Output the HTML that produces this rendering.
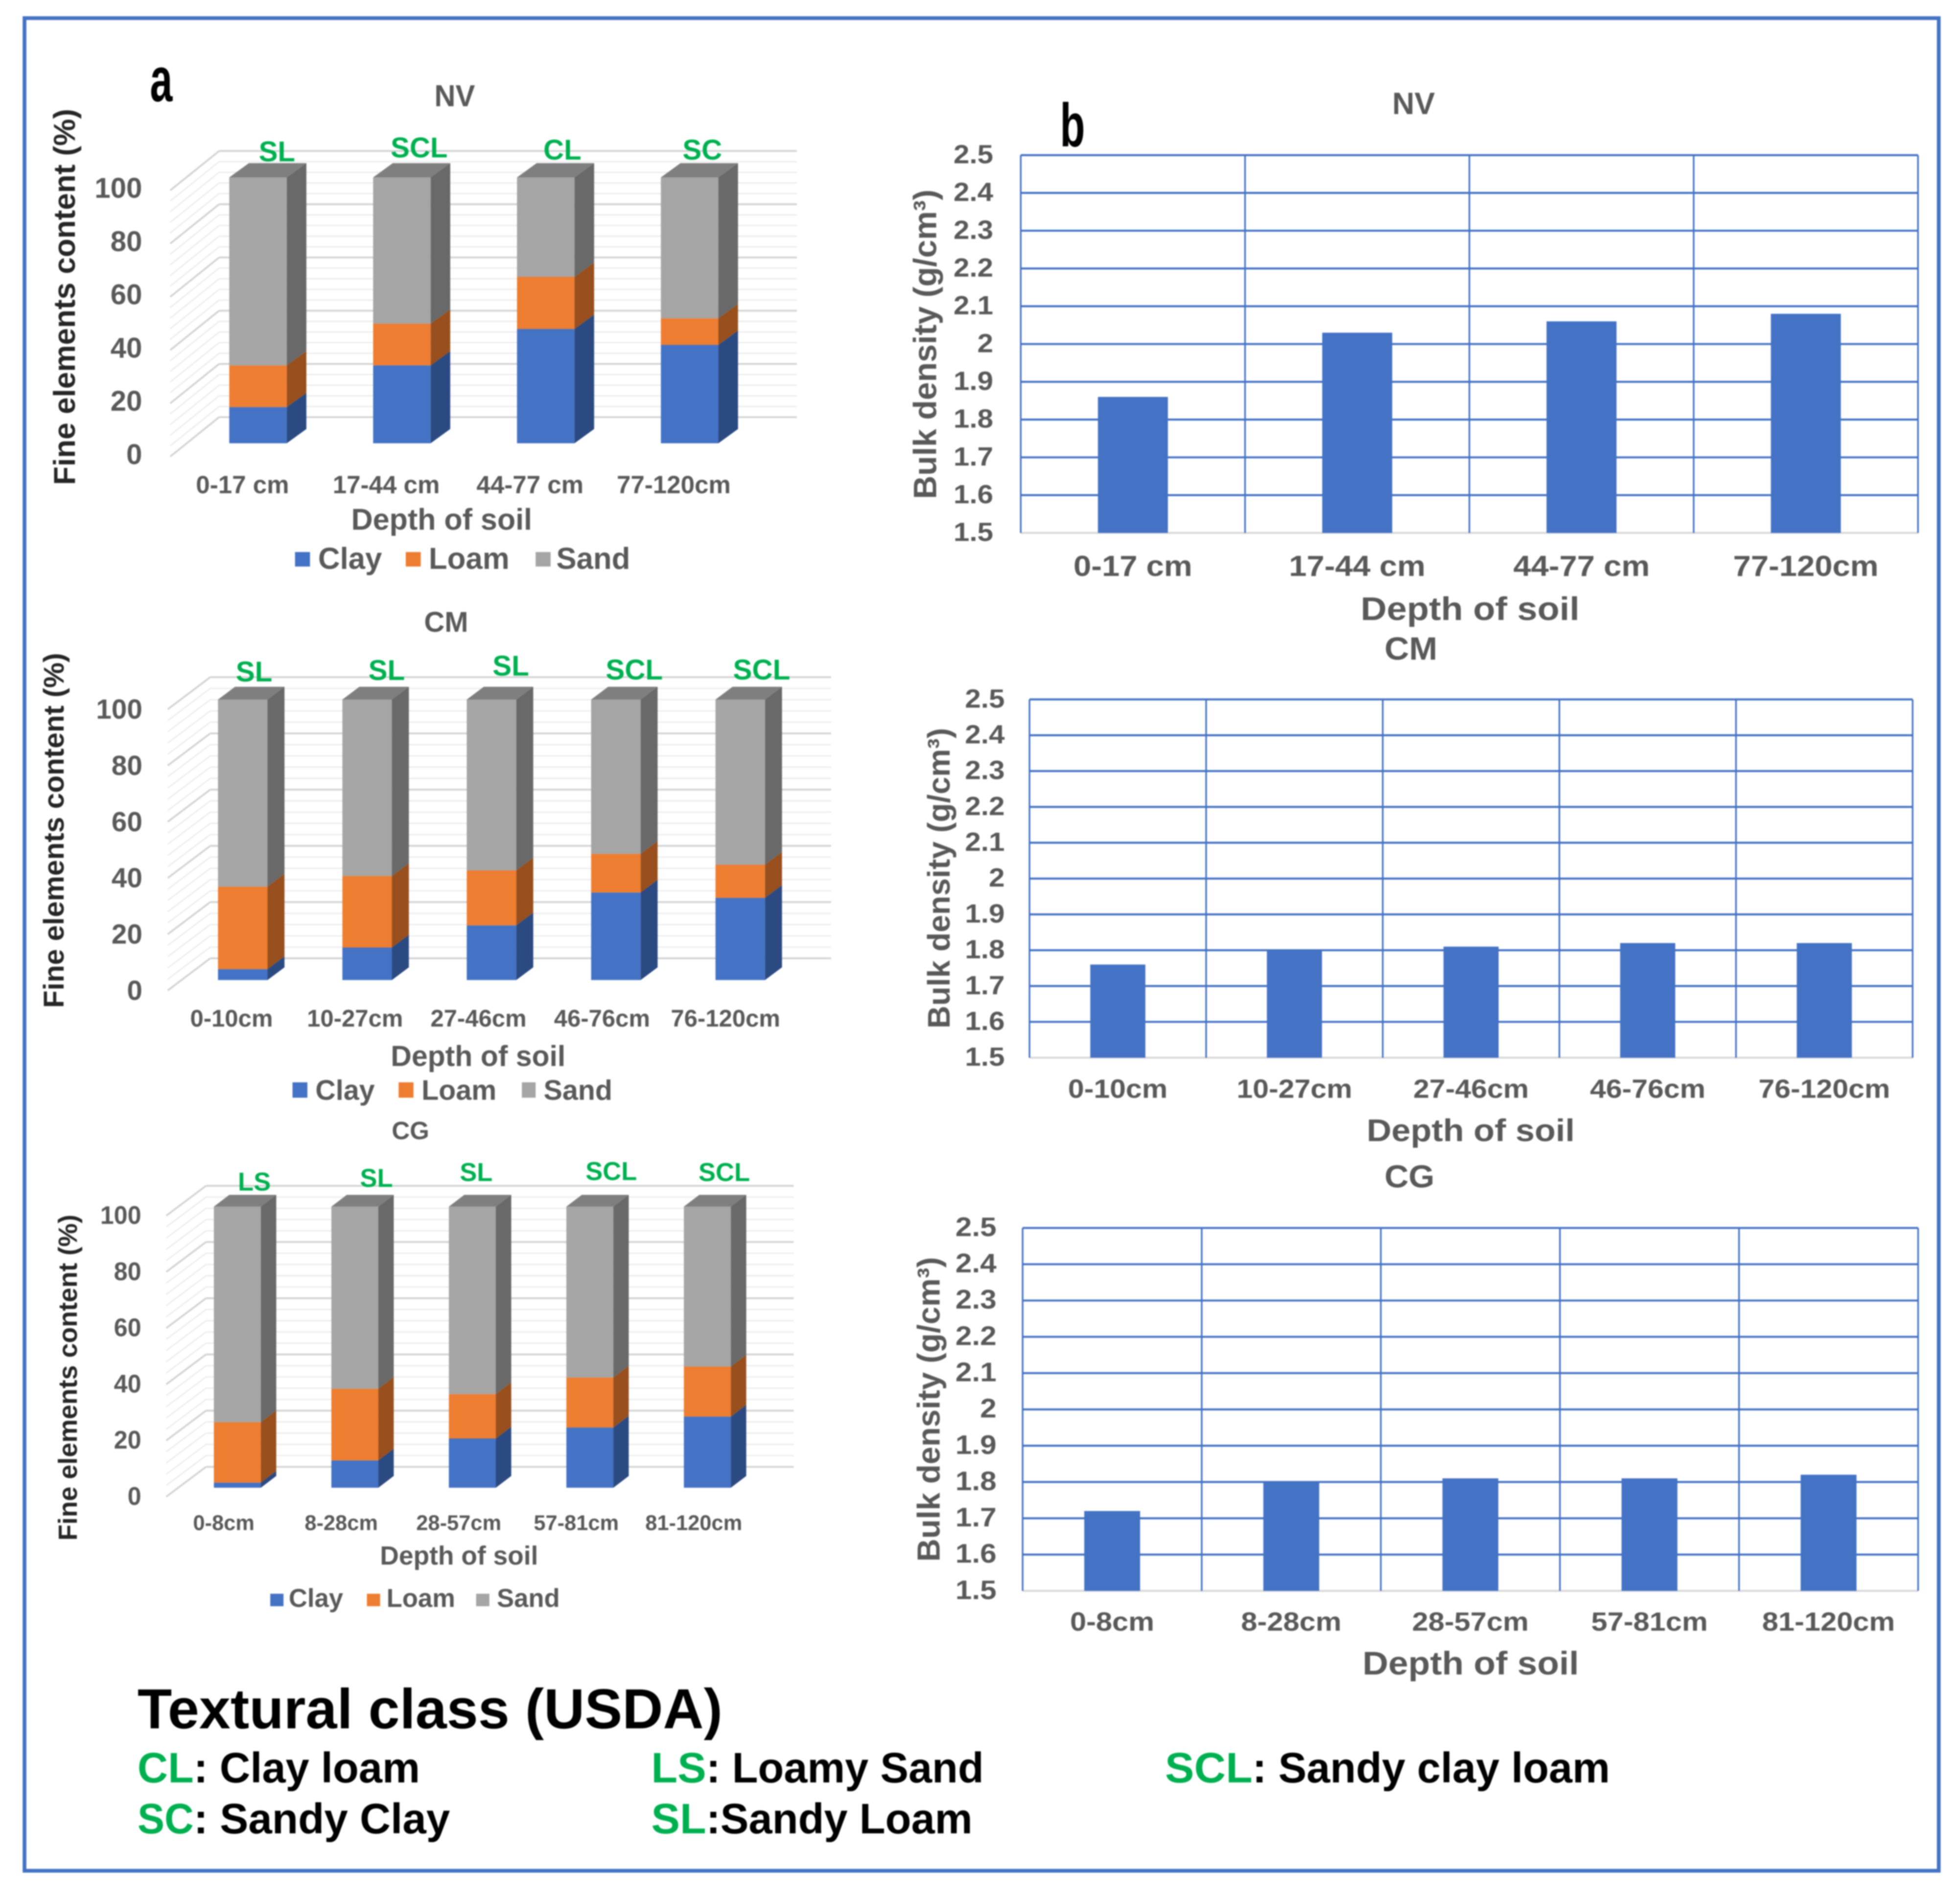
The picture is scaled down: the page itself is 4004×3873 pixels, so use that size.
<!DOCTYPE html>
<html lang="en">
<head>
<meta charset="utf-8">
<title>Soil fine elements and bulk density by depth</title>
<style>
html,body{margin:0;padding:0;background:#fff}
svg{display:block;filter:blur(1.2px)}
text{font-family:"Liberation Sans",Arial,sans-serif}
.g{fill:#595959;font-weight:700}
.c{fill:#00B050;font-weight:700}
.k{fill:#000;font-weight:700}
</style>
</head>
<body>
<svg id="figure" xmlns="http://www.w3.org/2000/svg" width="4004" height="3873" viewBox="0 0 1568 1516.7">
<rect x="0" y="0" width="1568" height="1516.7" fill="#fff"/>
<rect x="19.6" y="14.5" width="1531.4" height="1482" fill="none" stroke="#4472C4" stroke-width="3"/>

<text x="120" y="81" font-size="50" font-weight="700" fill="#000" textLength="18" lengthAdjust="spacingAndGlyphs">a</text>
<text x="848" y="117" font-size="49" font-weight="700" fill="#000" textLength="20" lengthAdjust="spacingAndGlyphs">b</text>

<!-- a: NV -->
<g id="stackNV"></g>
<text class="g" transform="translate(347.5 85) scale(.96 1)" font-size="24.4">NV</text>
<text class="g" transform="translate(60 388) rotate(-90)" font-size="24.3" textLength="301" lengthAdjust="spacingAndGlyphs" style="fill:#262626">Fine elements content (%)</text>
<text class="g" transform="translate(281 423.7)" font-size="23.9">Depth of soil</text>
<text class="c" x="207" y="129" font-size="22.8">SL</text>
<text class="c" x="312.5" y="126" font-size="22.8">SCL</text>
<text class="c" x="434.7" y="127.6" font-size="22.8">CL</text>
<text class="c" x="546" y="127.6" font-size="22.8">SC</text>
<g>
<rect x="236" y="441.6" width="12" height="11.6" fill="#4472C4"/>
<text class="g" x="254.5" y="455" font-size="24.2">Clay</text>
<rect x="324.6" y="441.6" width="12" height="11.6" fill="#ED7D31"/>
<text class="g" x="343" y="455" font-size="24.2">Loam</text>
<rect x="428.5" y="441.6" width="12" height="11.6" fill="#A5A5A5"/>
<text class="g" x="445" y="455" font-size="24.2">Sand</text>
</g>

<!-- a: CM -->
<g id="stackCM"></g>
<text class="g" transform="translate(339.3 505.3)" font-size="22.7">CM</text>
<text class="g" transform="translate(51 806.3) rotate(-90)" font-size="22.9" textLength="284" lengthAdjust="spacingAndGlyphs" style="fill:#262626">Fine elements content (%)</text>
<text class="g" transform="translate(312.6 852.7)" font-size="23.1">Depth of soil</text>
<text class="c" x="188.6" y="545.2" font-size="22.9">SL</text>
<text class="c" x="294.7" y="544" font-size="22.9">SL</text>
<text class="c" x="394" y="540.4" font-size="22.9">SL</text>
<text class="c" x="484.5" y="543.6" font-size="22.9">SCL</text>
<text class="c" x="586.4" y="543.6" font-size="22.9">SCL</text>
<g>
<rect x="234" y="865.8" width="11.9" height="12.3" fill="#4472C4"/>
<text class="g" x="252.3" y="879.7" font-size="22.5">Clay</text>
<rect x="318.9" y="865.8" width="11.9" height="12.3" fill="#ED7D31"/>
<text class="g" x="337.2" y="879.7" font-size="22.5">Loam</text>
<rect x="417.5" y="865.8" width="11" height="12.3" fill="#A5A5A5"/>
<text class="g" x="434.9" y="879.7" font-size="22.5">Sand</text>
</g>

<!-- a: CG -->
<g id="stackCG"></g>
<text class="g" transform="translate(313.4 911.3)" font-size="20">CG</text>
<text class="g" transform="translate(61.5 1232.4) rotate(-90)" font-size="21" textLength="260.8" lengthAdjust="spacingAndGlyphs" style="fill:#262626">Fine elements content (%)</text>
<text class="g" transform="translate(304 1251.6)" font-size="20.9">Depth of soil</text>
<text class="c" x="190.3" y="952.4" font-size="20.6">LS</text>
<text class="c" x="288" y="949.5" font-size="20.6">SL</text>
<text class="c" x="367.8" y="944.8" font-size="20.6">SL</text>
<text class="c" x="468.4" y="944" font-size="20.6">SCL</text>
<text class="c" x="558.8" y="944.8" font-size="20.6">SCL</text>
<g>
<rect x="216.2" y="1274.9" width="10.6" height="10" fill="#4472C4"/>
<text class="g" x="231" y="1285.4" font-size="20.6">Clay</text>
<rect x="293.5" y="1274.9" width="10.6" height="10" fill="#ED7D31"/>
<text class="g" x="309.2" y="1285.4" font-size="20.6">Loam</text>
<rect x="380.9" y="1274.9" width="10.6" height="10" fill="#A5A5A5"/>
<text class="g" x="397.5" y="1285.4" font-size="20.6">Sand</text>
</g>

<!-- b: bulk density -->
<g id="densityNV"></g>
<text class="g" transform="translate(1113.8 91.3)" font-size="24.6">NV</text>
<text class="g" transform="translate(749 399.2) rotate(-90)" font-size="25.8" textLength="247.6" lengthAdjust="spacingAndGlyphs">Bulk density (g/cm³)</text>
<text class="g" transform="translate(1088.5 496) scale(1.1 1)" font-size="26.3">Depth of soil</text>

<g id="densityCM"></g>
<text class="g" transform="translate(1107.6 527.7) scale(1.05 1)" font-size="25.9">CM</text>
<text class="g" transform="translate(759.8 822.7) rotate(-90)" font-size="25" textLength="240.4" lengthAdjust="spacingAndGlyphs">Bulk density (g/cm³)</text>
<text class="g" transform="translate(1093.3 912.8) scale(1.1 1)" font-size="25">Depth of soil</text>

<g id="densityCG"></g>
<text class="g" transform="translate(1107.6 949.9) scale(1.05 1)" font-size="25.4">CG</text>
<text class="g" transform="translate(751.6 1249.3) rotate(-90)" font-size="25.4" textLength="243.7" lengthAdjust="spacingAndGlyphs">Bulk density (g/cm³)</text>
<text class="g" transform="translate(1090 1339.4) scale(1.1 1)" font-size="26">Depth of soil</text>

<!-- textural class key -->
<g>
<text class="k" x="110" y="1382.5" font-size="45" textLength="468" lengthAdjust="spacingAndGlyphs">Textural class (USDA)</text>
<text class="c" x="110" y="1425.8" font-size="34" textLength="45" lengthAdjust="spacingAndGlyphs">CL</text>
<text class="k" x="155" y="1425.8" font-size="34" textLength="181" lengthAdjust="spacingAndGlyphs">:&#160;Clay loam</text>
<text class="c" x="521" y="1425.8" font-size="34" textLength="44" lengthAdjust="spacingAndGlyphs">LS</text>
<text class="k" x="565" y="1425.8" font-size="34" textLength="222" lengthAdjust="spacingAndGlyphs">:&#160;Loamy Sand</text>
<text class="c" x="932" y="1425.8" font-size="34" textLength="70" lengthAdjust="spacingAndGlyphs">SCL</text>
<text class="k" x="1002" y="1425.8" font-size="34" textLength="286" lengthAdjust="spacingAndGlyphs">:&#160;Sandy clay loam</text>
<text class="c" x="110" y="1466.5" font-size="34" textLength="45" lengthAdjust="spacingAndGlyphs">SC</text>
<text class="k" x="155" y="1466.5" font-size="34" textLength="205" lengthAdjust="spacingAndGlyphs">:&#160;Sandy Clay</text>
<text class="c" x="521" y="1466.5" font-size="34" textLength="44" lengthAdjust="spacingAndGlyphs">SL</text>
<text class="k" x="565" y="1466.5" font-size="34" textLength="213" lengthAdjust="spacingAndGlyphs">:Sandy Loam</text>
</g>
</svg>

<script>
// ---- data ----
const percentTicks = ['0','20','40','60','80','100'];
const densityTicks = ['1.5','1.6','1.7','1.8','1.9','2','2.1','2.2','2.3','2.4','2.5'];

const nvDepths = ['0-17 cm','17-44 cm','44-77 cm','77-120cm'];
const nvClay = [13.6,29.3,43,37];
const nvLoam = [15.7,15.7,19.6,10];
const nvSand = [70.7,55,37.4,53];
const nvDensity = [1.86,2.03,2.06,2.08];

const cmDepths = ['0-10cm','10-27cm','27-46cm','46-76cm','76-120cm'];
const cmClay = [3.9,11.6,19.5,31.2,29.3];
const cmLoam = [29.4,25.5,19.6,13.8,11.8];
const cmSand = [66.7,62.9,60.9,55,58.9];
const cmDensity = [1.76,1.80,1.81,1.82,1.82];

const cgDepths = ['0-8cm','8-28cm','28-57cm','57-81cm','81-120cm'];
const cgClay = [1.8,9.7,17.5,21.4,25.3];
const cgLoam = [21.5,25.5,15.8,17.8,17.8];
const cgSand = [76.7,64.8,66.7,60.8,56.9];
const cgDensity = [1.72,1.80,1.81,1.81,1.82];

// ---- helpers ----
const NS = 'http://www.w3.org/2000/svg';
function make(tag, props, parent){
  const e = document.createElementNS(NS, tag);
  for (const k in props) e.setAttribute(k, props[k]);
  parent.appendChild(e);
  return e;
}
function poly(points, fill, parent){
  return make('polygon', {points: points.map(p => p.join(',')).join(' '), fill: fill}, parent);
}
function textAt(str, x, y, size, sx, anchor, parent){
  const e = make('text', {transform:'translate('+x+' '+y+') scale('+sx+' 1)', 'font-size':size, 'text-anchor':anchor, class:'g'}, parent);
  e.textContent = str;
  return e;
}

const CLAY = {front:'#4472C4', side:'#2B4A82', name:'clay'};
const LOAM = {front:'#ED7D31', side:'#984F1D', name:'loam'};
const SAND = {front:'#A5A5A5', side:'#696969', name:'sand'};

// ---- 3-D stacked percentage chart ----
function drawStacked(id, geo, cats, clay, loam, sand){
  const root = document.getElementById(id);
  const yFront = v => geo.barBottom - v / 100 * geo.barH;
  const wallF = v => geo.wallFrontY - v / 100 * geo.wallH;
  const wallB = v => geo.wallBackY - v / 100 * geo.wallH;
  const xBar = i => geo.barX + geo.pitch * i;

  for (let v = 0; v <= 100; v += 4){
    const major = v % 20 === 0;
    const stroke = major ? '#D4D4D4' : '#EDEDED';
    const width = major ? 1.5 : 1.1;
    const back = make('line', {x1:geo.wallBackX, y1:wallB(v), x2:geo.wallRight, y2:wallB(v), stroke:stroke, 'stroke-width':width}, root);
    
    
    const diag = make('line', {x1:geo.wallFrontX, y1:wallF(v), x2:geo.wallBackX, y2:wallB(v), stroke:stroke, 'stroke-width':width}, root);
    
    
  }

  percentTicks.forEach(function(t){
    const label = textAt(t, geo.tickRight, wallF(+t) + geo.tickDy, geo.tickSize, geo.tickSx, 'end', root);
    
    
  });

  cats.forEach(function(cat, i){
    const bar = make('g', {}, root);
    
    
    const x0 = xBar(i), x1 = x0 + geo.barW;
    let base = 0;
    [[CLAY, clay[i]], [LOAM, loam[i]], [SAND, sand[i]]].forEach(function(seg){
      const top = base + seg[1];
      const yb = yFront(base), yt = yFront(top);
      const side = poly([[x1,yb],[x1+geo.dx,yb-geo.dy],[x1+geo.dx,yt-geo.dy],[x1,yt]], seg[0].side, bar);
      
      
      const front = make('rect', {x:x0, y:yt, width:geo.barW, height:yb-yt, fill:seg[0].front}, bar);
      
      
      base = top;
    });
    const yTop = yFront(base);
    const cap = poly([[x0,yTop],[x0+geo.dx,yTop-geo.dy],[x1+geo.dx,yTop-geo.dy],[x1,yTop]], '#7F7F7F', bar);
    
    

    const label = textAt(cat, geo.labelX + geo.labelPitch * i, geo.labelY, geo.labelSize, geo.labelSx, 'middle', root);
    
    
  });
}

// ---- flat density bar chart ----
function drawDensity(id, geo, cats, values){
  const root = document.getElementById(id);
  const w = geo.right - geo.left;
  const band = w / cats.length;
  const y = v => geo.bottom - (v - 1.5) / 1 * (geo.bottom - geo.top);

  densityTicks.forEach(function(t){
    const v = +t;
    const line = make('line', {x1:geo.left, y1:y(v), x2:geo.right, y2:y(v), stroke: v === 1.5 ? '#D9D9D9' : '#4472C4', 'stroke-width':1.6}, root);
    
    
    const label = textAt(t, geo.tickRight, y(v) + 6.5, geo.tickSize, geo.tickSx, 'end', root);
    
    
  });
  for (let i = 0; i <= cats.length; i++){
    const x = geo.left + band * i;
    const line = make('line', {x1:x, y1:geo.top, x2:x, y2:geo.bottom, stroke:'#4472C4', 'stroke-width':1.3}, root);
    
    
  }
  cats.forEach(function(cat, i){
    const cx = geo.left + band * (i + 0.5);
    const bw = band * 0.312;
    const bar = make('rect', {x:cx - bw / 2, y:y(values[i]), width:bw, height:y(1.5) - y(values[i]), fill:'#4472C4'}, root);
    
    
    const label = textAt(cat, cx, geo.labelY, geo.labelSize, geo.labelSx, 'middle', root);
    
    
  });
}

drawStacked('stackNV', {barX:183.4, pitch:115.1, barW:46, barBottom:354.6, barH:212.7, dx:15.7, dy:11.4,
  wallFrontX:136.2, wallBackX:175.3, wallRight:637.5, wallFrontY:365.2, wallBackY:333.7, wallH:212.9,
  tickRight:113.7, tickDy:6, tickSize:22.8, tickSx:1,
  labelX:194, labelPitch:115, labelY:394.5, labelSize:20, labelSx:1}, nvDepths, nvClay, nvLoam, nvSand);

drawStacked('stackCM', {barX:174.4, pitch:99.5, barW:39.6, barBottom:784, barH:224.4, dx:13.6, dy:10.2,
  wallFrontX:134.2, wallBackX:168.2, wallRight:664.9, wallFrontY:792.3, wallBackY:766.6, wallH:224.9,
  tickRight:113.9, tickDy:7.5, tickSize:22.2, tickSx:1,
  labelX:185.2, labelPitch:98.8, labelY:821.3, labelSize:19.2, labelSx:1}, cmDepths, cmClay, cmLoam, cmSand);

drawStacked('stackCG', {barX:171.1, pitch:94, barW:37.6, barBottom:1190.1, barH:224.9, dx:12.3, dy:9.4,
  wallFrontX:133, wallBackX:164.8, wallRight:635, wallFrontY:1197.3, wallBackY:1173.4, wallH:224.8,
  tickRight:113, tickDy:6.5, tickSize:20.5, tickSx:.96,
  labelX:179, labelPitch:94, labelY:1224, labelSize:17, labelSx:1}, cgDepths, cgClay, cgLoam, cgSand);

drawDensity('densityNV', {left:816.6, right:1534.4, top:124.1, bottom:426.3,
  tickRight:794.6, tickSize:21, tickSx:1.09, labelY:460.7, labelSize:23.2, labelSx:1.1}, nvDepths, nvDensity);
drawDensity('densityCM', {left:823.6, right:1530.1, top:559.5, bottom:846.1,
  tickRight:803.8, tickSize:21, tickSx:1.09, labelY:878.2, labelSize:21, labelSx:1.1}, cmDepths, cmDensity);
drawDensity('densityCG', {left:818.1, right:1534.5, top:982.3, bottom:1272.6,
  tickRight:797.2, tickSize:21.5, tickSx:1.1, labelY:1304.5, labelSize:21.2, labelSx:1.1}, cgDepths, cgDensity);
</script>
</body>
</html>
